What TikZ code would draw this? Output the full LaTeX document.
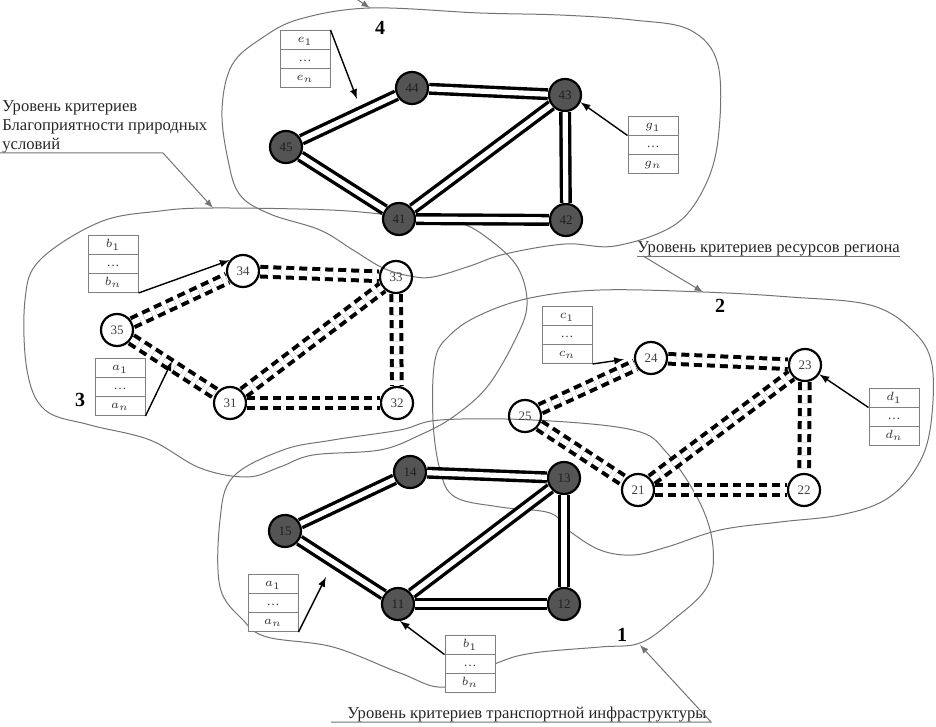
\documentclass[tikz,border=0pt]{standalone}
\usepackage{fontspec}
\setmainfont{Liberation Serif}
\usetikzlibrary{shapes.multipart}
\tikzset{>=latex,
    vertexFull/.style={circle, draw=black, line width=1.1pt, fill=black!67, text=black!88, minimum size=16pt, inner sep=0pt, font=\fontsize{6.5}{7}\selectfont},
    vertexEmpty/.style={circle, draw=black, line width=1.1pt, text=black!75, minimum size=16pt, inner sep=0pt, font=\fontsize{6.5}{7}\selectfont},
    roadSolid/.style={draw=black, line width=1.7pt, double=white, double distance=2.6pt},
    roadDashed/.style={draw=black, line width=2pt, double=white, double distance=2.8pt, dash pattern=on 4pt off 2.5pt},
    levelLine/.style={draw=black!55, line width=0.5pt},
    pointer/.style={->, draw=black, line width=0.7pt},
    critBox/.style={rectangle split, rectangle split parts=3, draw=black!50, fill=white, line width=0.5pt, text width=21pt, align=center, inner xsep=2pt, inner ysep=1pt, text=black!80, font=\fontsize{6.5}{7}\selectfont},
    levelText/.style={inner sep=0pt, text=black!85, font=\fontsize{8.3}{9.5}\selectfont},
    levelNum/.style={inner sep=0pt, font=\fontsize{10}{12}\selectfont\bfseries},
    }
\newcommand{\critList}[1]{\strut$#1_1$\nodepart{two}\strut\dots\nodepart{three}\strut$#1_n$}

\begin{document}
\begin{tikzpicture}[x=0.5pt, y=-0.5pt]
	\useasboundingbox (0,0) rectangle (936,727);
	% level borders
	\draw[levelLine] plot[smooth cycle, tension=0.6] coordinates {(300,19) (370,8) (480,13) (560,15) (633,20) (690,30) (718,65) (718,140) (703,190) (673,226) (615,246) (565,244) (505,254) (470,266) (433,277) (410,276) (383,268) (353,250) (320,230) (270,214) (240,195) (228,160) (222,110) (232,65) (262,38)};
	\draw[levelLine] plot[smooth cycle, tension=0.6] coordinates {(100,222) (160,211) (213,208) (330,210) (400,216) (457,222) (490,240) (518,268) (527,305) (515,340) (487,387) (453,417) (420,435) (380,450) (313,455) (280,467) (247,477) (200,468) (150,440) (90,425) (45,410) (27,370) (25,300) (40,260)};
	\draw[levelLine] plot[smooth cycle, tension=0.6] coordinates {(435,360) (450,335) (480,315) (530,298) (600,290) (703,292) (790,297) (870,305) (912,330) (932,365) (930,430) (915,470) (885,500) (840,515) (780,522) (720,530) (667,547) (633,555) (600,550) (568,530) (550,513) (500,507) (455,497) (440,470) (433,420)};
	\draw[levelLine] plot[smooth cycle, tension=0.6] coordinates {(440,420) (533,420) (633,430) (667,453) (700,503) (713,547) (707,587) (673,620) (640,643) (600,647) (533,653) (497,663) (445,687) (400,673) (333,647) (267,637) (243,620) (220,587) (220,520) (233,477) (283,450) (333,440) (400,430)};

	% level 4
	\node[vertexFull] (v44) at (412,88) {44};
	\node[vertexFull] (v43) at (565,95) {43};
	\node[vertexFull] (v45) at (286,147) {45};
	\node[vertexFull] (v41) at (399,219) {41};
	\node[vertexFull] (v42) at (566,220) {42};
	\draw[roadSolid] (v45) -- (v44);
	\draw[roadSolid] (v44) -- (v43);
	\draw[roadSolid] (v45) -- (v41);
	\draw[roadSolid] (v41) -- (v43);
	\draw[roadSolid] (v41) -- (v42);
	\draw[roadSolid] (v43) -- (v42);

	% level 3
	\node[vertexEmpty] (v34) at (243,271) {34};
	\node[vertexEmpty] (v33) at (396,277) {33};
	\node[vertexEmpty] (v35) at (117,330) {35};
	\node[vertexEmpty] (v31) at (230,403) {31};
	\node[vertexEmpty] (v32) at (397,403) {32};
	\draw[roadDashed] (v35) -- (v34);
	\draw[roadDashed] (v34) -- (v33);
	\draw[roadDashed] (v35) -- (v31);
	\draw[roadDashed] (v31) -- (v33);
	\draw[roadDashed] (v31) -- (v32);
	\draw[roadDashed] (v33) -- (v32);

	% level 2
	\node[vertexEmpty] (v24) at (651,358) {24};
	\node[vertexEmpty] (v23) at (805,365) {23};
	\node[vertexEmpty] (v25) at (525,416) {25};
	\node[vertexEmpty] (v21) at (638,490) {21};
	\node[vertexEmpty] (v22) at (804,490) {22};
	\draw[roadDashed] (v25) -- (v24);
	\draw[roadDashed] (v24) -- (v23);
	\draw[roadDashed] (v25) -- (v21);
	\draw[roadDashed] (v21) -- (v23);
	\draw[roadDashed] (v21) -- (v22);
	\draw[roadDashed] (v23) -- (v22);

	% level 1
	\node[vertexFull] (v14) at (410,472) {14};
	\node[vertexFull] (v13) at (564,478) {13};
	\node[vertexFull] (v15) at (285,531) {15};
	\node[vertexFull] (v11) at (398,604) {11};
	\node[vertexFull] (v12) at (564,604) {12};
	\draw[roadSolid] (v15) -- (v14);
	\draw[roadSolid] (v14) -- (v13);
	\draw[roadSolid] (v15) -- (v11);
	\draw[roadSolid] (v11) -- (v13);
	\draw[roadSolid] (v11) -- (v12);
	\draw[roadSolid] (v13) -- (v12);

	% criteria
	\node[critBox] (boxE) at (305,59) {\critList{e}};
	\node[critBox] (boxG) at (653,145) {\critList{g}};
	\node[critBox] (boxB3) at (113,264) {\critList{b}};
	\node[critBox] (boxA3) at (120,387) {\critList{a}};
	\node[critBox] (boxC) at (567,335) {\critList{c}};
	\node[critBox] (boxD) at (894,417) {\critList{d}};
	\node[critBox] (boxA1) at (273,603) {\critList{a}};
	\node[critBox] (boxB1) at (470,664) {\critList{b}};
	\coordinate (tipE) at (357,99);
	\coordinate (tipA3) at (172,361);
	\coordinate (tipA1) at (326,577);
	\draw[pointer] (boxE.north east) -- (tipE);
	\draw[pointer] (boxG.text split west) -- (v43.-25);
	\draw[pointer] (boxB3.south east) -- (v34.141);
	\draw[pointer] (boxA3.south east) -- (tipA3);
	\draw[pointer, shorten >=5pt] (boxC.south east) -- (v24.west);
	\draw[pointer] (boxD.text split west) -- (v23.-33);
	\draw[pointer] (boxA1.south east) -- (tipA1);
	\draw[pointer] (boxB1.text split west) -- (v11.-84);

	% level names
	\node[levelNum] (num4) at (380,28) {4};
	\node[levelNum] (num3) at (80,400) {3};
	\node[levelNum] (num2) at (720,306) {2};
	\node[levelNum] (num1) at (622,635) {1};
	\node[levelText, anchor=south west, align=left] (lvl3) at (2,153) {Уровень критериев\\Благоприятности природных\\условий};
	\node[levelText, anchor=south west] (lvl2) at (637,256) {Уровень критериев ресурсов региона};
	\node[levelText, anchor=south west] (lvl1) at (347,722) {Уровень критериев транспортной инфраструктуры};
	\coordinate (tail4) at (352,-4);
	\coordinate (tip4) at (370,8);
	\coordinate (tip3) at (213,208);
	\coordinate (tip2) at (703,292);
	\coordinate (tip1) at (640,645);
	\draw[levelLine, ->] (tail4) -- (tip4);
	\draw[levelLine, ->] ([xshift=-1pt]lvl3.south west) -- ++(163,0) -- (tip3);
	\draw[levelLine] (lvl2.south west) -- (lvl2.south east);
	\draw[levelLine, ->] ([xshift=3pt]lvl2.south west) -- (tip2);
	\draw[levelLine, ->] ([xshift=-8pt]lvl1.south west) -- ([xshift=2pt]lvl1.south east) -- (tip1);
\end{tikzpicture}
\end{document}
